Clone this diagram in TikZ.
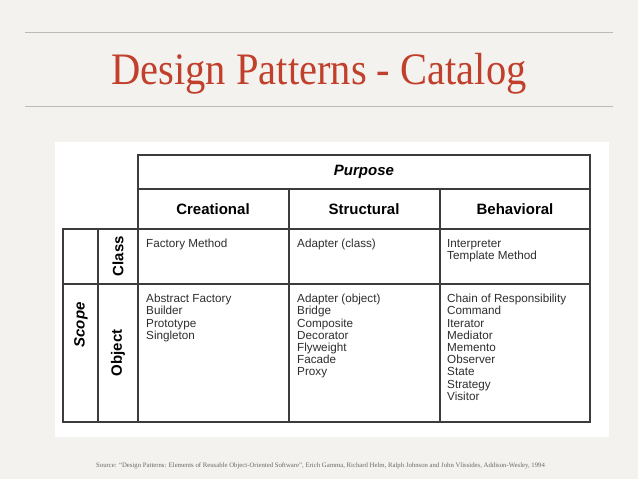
\documentclass[tikz,border=0pt]{standalone}
\usepackage{fontspec}
\setmainfont{Liberation Serif}
\setsansfont{Liberation Sans}
\newfontfamily\titlefont[FakeStretch=0.9]{Liberation Serif}
\usetikzlibrary{positioning}
\definecolor{slidebg}{HTML}{F4F2EE}
\definecolor{titlered}{HTML}{C0402C}
\definecolor{rulegray}{HTML}{BDB9B3}
\definecolor{gridgray}{HTML}{3C3C3C}
\definecolor{celltext}{HTML}{2E2E2E}
\definecolor{sourcegray}{HTML}{6E6A66}

\begin{document}
\begin{tikzpicture}[x=1pt, y=-1pt]
    \tikzstyle{head}=[inner sep=0pt, font=\sffamily\bfseries\fontsize{15}{18}\selectfont]
    \tikzstyle{cell}=[anchor=north west, align=left, inner sep=0pt, text=celltext, font=\sffamily\fontsize{11.7}{12.2}\selectfont]
    \tikzstyle{grid}=[draw=gridgray, line width=1.1pt]
    \fill [slidebg] (0,0) rectangle (638,479);
    \useasboundingbox (0,0) rectangle (638,479);
    \draw [rulegray, line width=0.8pt] (25,32) -- (613,32);
    \draw [rulegray, line width=0.8pt] (25,106) -- (613,106);
    \node (title) [text=titlered, font=\titlefont\fontsize{45}{50}\selectfont, anchor=base] at (319,84) {Design Patterns - Catalog};
    \fill [white] (55,142) rectangle (609,437);
    % table frame
    \draw [grid] (138,155) rectangle (590,422);
    \draw [grid] (138,189) -- (590,189);
    \draw [grid] (138,229) -- (590,229);
    \draw [grid] (63,284) -- (590,284);
    \draw [grid] (63,229) rectangle (138,422);
    \draw [grid] (98,229) -- (98,422);
    \draw [grid] (289,189) -- (289,422);
    \draw [grid] (440,189) -- (440,422);
    % headings
    \node (purpose) [head, font=\sffamily\bfseries\itshape\fontsize{15}{18}\selectfont] at (364,172) {Purpose};
    \node (creational) [head] at (213,209) {Creational};
    \node (structural) [head] at (364,209) {Structural};
    \node (behavioral) [head] at (515,209) {Behavioral};
    \node (scope) [head, font=\sffamily\bfseries\itshape\fontsize{15}{18}\selectfont, rotate=90] at (81,325) {Scope};
    \node (class) [head, rotate=90] at (118,256) {Class};
    \node (object) [head, rotate=90] at (118,353) {Object};
    % cells
    \node (classcre) [cell] at (146,239) {Factory Method};
    \node (classstr) [cell] at (297,239) {Adapter (class)};
    \node (classbeh) [cell] at (447,239) {Interpreter\\Template Method};
    \node (objcre) [cell] at (146,294) {Abstract Factory\\Builder\\Prototype\\Singleton};
    \node (objstr) [cell] at (297,294) {Adapter (object)\\Bridge\\Composite\\Decorator\\Flyweight\\Facade\\Proxy};
    \node (objbeh) [cell] at (447,294) {Chain of Responsibility\\Command\\Iterator\\Mediator\\Memento\\Observer\\State\\Strategy\\Visitor};
    \node (source) [text=sourcegray, font=\fontsize{6.75}{8}\selectfont, anchor=base west, inner sep=0pt] at (96,467) {Source: “Design Patterns: Elements of Reusable Object-Oriented Software”, Erich Gamma, Richard Helm, Ralph Johnson and John Vlissides, Addison-Wesley, 1994};
\end{tikzpicture}
\end{document}
